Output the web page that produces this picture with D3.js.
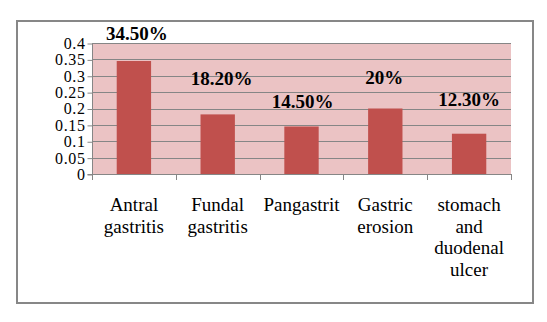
<!DOCTYPE html>
<html>
<head>
<meta charset="utf-8">
<script src="https://cdn.jsdelivr.net/npm/d3@7"></script>
<style>
  body { margin: 0; background: #fff; }
  svg text { font-family: "Liberation Serif", "Times New Roman", serif; fill: #000; }
</style>
</head>
<body>
<svg id="chart" width="547" height="322"></svg>
<script>
  // data
  let categories = [
    ['Antral', 'gastritis'],
    ['Fundal', 'gastritis'],
    ['Pangastrit'],
    ['Gastric', 'erosion'],
    ['stomach', 'and', 'duodenal', 'ulcer']
  ]
  let values = [0.345, 0.182, 0.145, 0.2, 0.123]
  let valueLabels = ['34.50%', '18.20%', '14.50%', '20%', '12.30%']
  let yTicks = [0, 0.05, 0.1, 0.15, 0.2, 0.25, 0.3, 0.35, 0.4]

  // the data labels sit where they were dragged by hand, not at a fixed gap
  let labelGap = [21, 29, 19, 25, 28]
  let labelShift = [3, 4, 1, -1, 0]

  let svg = d3.select('#chart')
  let plot = { left: 92, right: 511, top: 43, bottom: 174 }

  // outer frame
  svg.append('rect')
    .attr('x', 17).attr('y', 21)
    .attr('width', 516).attr('height', 282)
    .style('fill', '#fff')
    .style('stroke', '#878787')
    .style('stroke-width', 2)

  let x = d3.scaleBand()
    .domain(d3.range(categories.length))
    .range([plot.left, plot.right])
    .paddingInner(0.59)
    .paddingOuter(0.295)
  let y = d3.scaleLinear().domain([0, 0.4]).range([plot.bottom, plot.top])
  let step = (plot.right - plot.left) / categories.length

  // plot background
  svg.append('rect')
    .attr('x', plot.left).attr('y', plot.top)
    .attr('width', plot.right - plot.left).attr('height', plot.bottom - plot.top)
    .style('fill', '#ebc3c4')

  // gridlines
  svg.append('g').selectAll('line')
    .data(yTicks.slice(1))
    .enter().append('line')
    .attr('x1', plot.left).attr('x2', plot.right)
    .attr('y1', d => Math.round(y(d)) + 0.5).attr('y2', d => Math.round(y(d)) + 0.5)
    .style('stroke', '#868686')

  // bars
  svg.append('g').selectAll('rect')
    .data(values)
    .enter().append('rect')
    .attr('x', (d, i) => x(i))
    .attr('y', d => y(d))
    .attr('width', x.bandwidth())
    .attr('height', d => plot.bottom - y(d))
    .style('fill', '#c0504d')

  // y axis
  let yAxis = svg.append('g')
    .attr('transform', `translate(${plot.left + 0.5},0)`)
    .call(d3.axisLeft(y).tickValues(yTicks).tickSize(5).tickPadding(2).tickFormat(d => String(+d.toFixed(2))))
  yAxis.select('.domain')
    .attr('d', `M-5,${plot.bottom + 0.5}H0V${plot.top}`)
    .style('stroke', '#868686')
  yAxis.selectAll('line').style('stroke', '#868686').attr('transform', 'translate(0,0.5)')
  yAxis.selectAll('text')
    .style('font-size', '16px')
    .style('letter-spacing', '0.6px')
    .attr('dy', '0.34em')

  // x axis
  let xAxis = svg.append('g')
  xAxis.append('line')
    .attr('x1', plot.left).attr('x2', plot.right)
    .attr('y1', plot.bottom + 0.5).attr('y2', plot.bottom + 0.5)
    .style('stroke', '#868686')
  xAxis.selectAll('line.tick')
    .data(d3.range(categories.length + 1))
    .enter().append('line')
    .attr('class', 'tick')
    .attr('x1', i => Math.round(plot.left + i * step) + 0.5)
    .attr('x2', i => Math.round(plot.left + i * step) + 0.5)
    .attr('y1', plot.bottom).attr('y2', plot.bottom + 6)
    .style('stroke', '#868686')

  xAxis.selectAll('text.cat')
    .data(categories)
    .enter().append('text')
    .attr('class', 'cat')
    .attr('text-anchor', 'middle')
    .style('font-size', '19px')
    .each(function (d, i) {
      let cx = x(i) + x.bandwidth() / 2
      d3.select(this).selectAll('tspan')
        .data(d)
        .enter().append('tspan')
        .attr('x', cx)
        .attr('y', (t, j) => 211 + j * 21.7)
        .text(t => t)
    })

  // value labels
  svg.append('g').selectAll('text')
    .data(values)
    .enter().append('text')
    .attr('x', (d, i) => x(i) + x.bandwidth() / 2 + labelShift[i])
    .attr('y', (d, i) => y(d) - labelGap[i])
    .attr('text-anchor', 'middle')
    .style('font-size', '19px')
    .style('font-weight', 'bold')
    .text((d, i) => valueLabels[i])
</script>
</body>
</html>
